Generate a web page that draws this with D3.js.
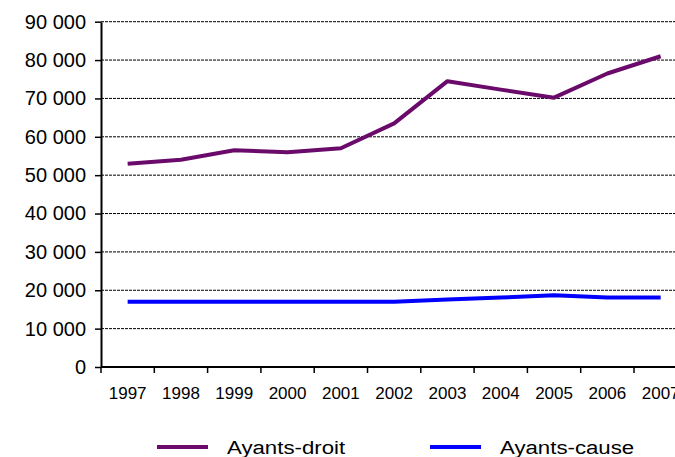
<!DOCTYPE html>
<html>
<head>
  <meta charset="utf-8">
  <script src="https://d3js.org/d3.v7.min.js"></script>
  <style>
    body { margin: 0; background: #fff; }
    svg { font-family: "Liberation Sans", Arial, sans-serif; }
  </style>
</head>
<body>
  <div id="chart"></div>
  <script>

const years = ["1997", "1998", "1999", "2000", "2001", "2002", "2003", "2004", "2005", "2006", "2007"];
const ayantsDroit = [53000, 54000, 56500, 56000, 57000, 63500, 74500, 72300, 70200, 76500, 81000];
const ayantsCause = [17000, 17000, 17000, 17000, 17000, 17000, 17600, 18100, 18700, 18100, 18100];
const yTicks = [0, 10000, 20000, 30000, 40000, 50000, 60000, 70000, 80000, 90000];
const seriesNames = ["Ayants-droit", "Ayants-cause"];
const seriesColors = ["#6a0a6a", "#0000ff"];

const W = 675, H = 457;
const plotLeft = 101, plotTop = 21.7, plotBottom = 367;
const step = 53.3;

const svg = d3.select("#chart")
  .append("svg")
  .attr("width", W)
  .attr("height", H);

const x = d3.scaleBand()
  .domain(years)
  .range([plotLeft, plotLeft + step * years.length])
  .padding(0);

const y = d3.scaleLinear()
  .domain([0, 90000])
  .range([plotBottom, plotTop]);

const fmt = d => d3.format(",")(d).replace(/,/g, " ");

// dashed gridlines
svg.append("g")
  .selectAll("line")
  .data(yTicks.filter(d => d > 0))
  .enter()
  .append("line")
  .attr("x1", plotLeft)
  .attr("x2", W)
  .attr("y1", d => y(d))
  .attr("y2", d => y(d))
  .attr("stroke", "#000")
  .attr("stroke-width", 1)
  .attr("stroke-dasharray", "3,1");

// y axis
const yAxis = svg.append("g")
  .attr("transform", `translate(${plotLeft},0)`)
  .call(d3.axisLeft(y).tickValues(yTicks).tickFormat(fmt).tickSize(6).tickPadding(9).tickSizeOuter(0));
yAxis.select(".domain").attr("stroke", "#000").attr("stroke-width", 2);
yAxis.selectAll(".tick line").attr("stroke", "#000").attr("stroke-width", 1.5);
yAxis.selectAll("text")
  .attr("fill", "#000")
  .style("font-size", "20px")
  .style("font-family", "Liberation Sans, Arial, sans-serif");

// x axis: labels at centers
const xAxis = svg.append("g")
  .attr("transform", `translate(0,${plotBottom})`)
  .call(d3.axisBottom(x).tickSize(0).tickPadding(20));
xAxis.select(".domain").remove();
xAxis.selectAll("text")
  .attr("fill", "#000")
  .style("font-size", "17px")
  .style("font-family", "Liberation Sans, Arial, sans-serif");

// x axis line and tick marks at band edges
svg.append("line")
  .attr("x1", plotLeft)
  .attr("x2", W)
  .attr("y1", plotBottom)
  .attr("y2", plotBottom)
  .attr("stroke", "#000")
  .attr("stroke-width", 2);

svg.append("g")
  .selectAll("line")
  .data(years)
  .enter()
  .append("line")
  .attr("x1", d => x(d))
  .attr("x2", d => x(d))
  .attr("y1", plotBottom)
  .attr("y2", plotBottom + 6)
  .attr("stroke", "#000")
  .attr("stroke-width", 1.5);

// lines
const line = d3.line()
  .x((d, i) => x(years[i]) + x.bandwidth() / 2)
  .y(d => y(d));

[ayantsDroit, ayantsCause].forEach((vals, i) => {
  svg.append("path")
    .datum(vals)
    .attr("fill", "none")
    .attr("stroke", seriesColors[i])
    .attr("stroke-width", 4)
    .attr("stroke-linejoin", "round")
    .attr("d", line);
});

// legend
const legendX = [157, 430];
const legend = svg.append("g");
seriesNames.forEach((name, i) => {
  legend.append("line")
    .attr("x1", legendX[i])
    .attr("x2", legendX[i] + 51)
    .attr("y1", 447)
    .attr("y2", 447)
    .attr("stroke", seriesColors[i])
    .attr("stroke-width", 4);
  legend.append("text")
    .attr("transform", `translate(${legendX[i] + 70},454) scale(1.17,1)`)
    .style("font-size", "19px")
    .attr("fill", "#000")
    .text(name);
});

  </script>
</body>
</html>
